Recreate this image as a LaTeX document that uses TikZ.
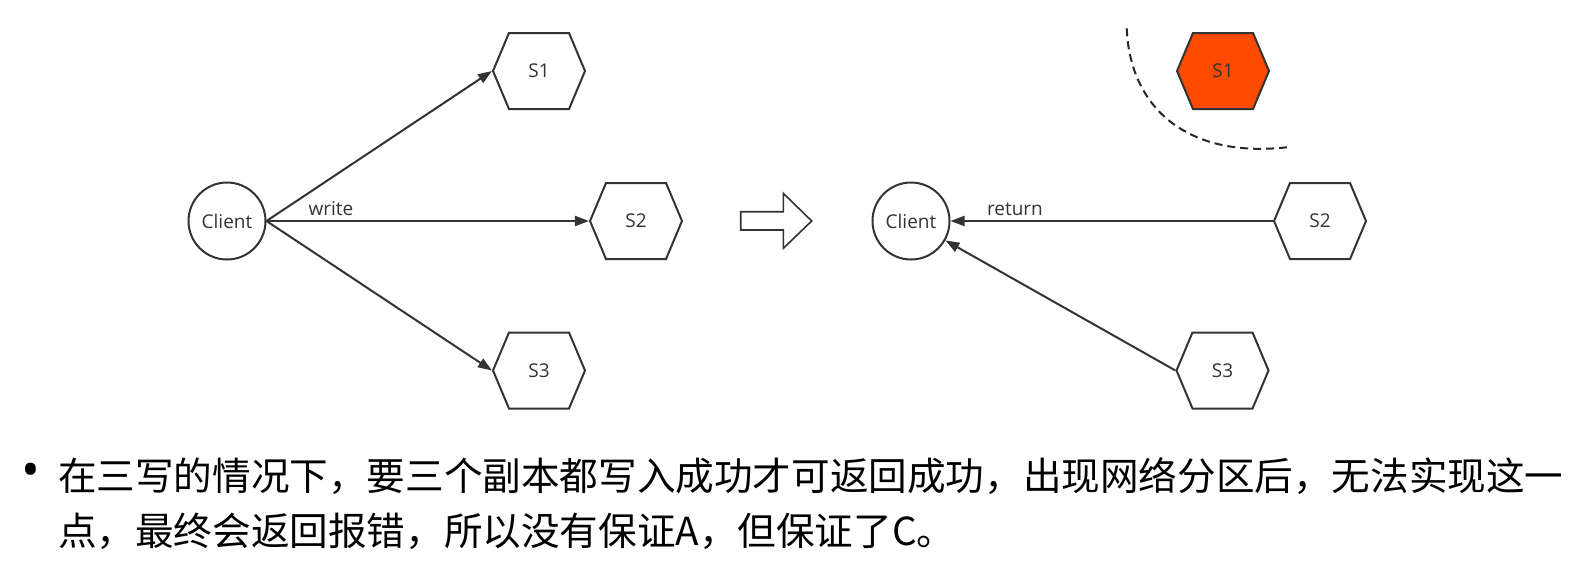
\documentclass[tikz,border=0pt]{standalone}
\usepackage{fontspec}
\usepackage{tikz}
\usetikzlibrary{arrows.meta,shapes.symbols}
\newfontfamily\lblfont{Open Sans}
\newfontfamily\cjkfont{Noto Sans CJK SC}
\definecolor{edgegray}{HTML}{333333}
\definecolor{txtgray}{HTML}{333333}
\definecolor{hexred}{HTML}{FF4B00}

\begin{document}
\begin{tikzpicture}[x=0.5pt,y=-0.5pt,
  lbl/.style={font=\lblfont\fontsize{9.5pt}{11pt}\selectfont,text=txtgray},
  cli/.style={lbl,circle,draw=edgegray,line width=1pt,minimum size=38.5pt,inner sep=0pt},
  srv/.style={lbl,signal,signal to=west and east,signal pointer angle=134.4,draw=edgegray,line width=1pt,minimum width=46pt,minimum height=38pt,inner sep=0pt},
  link/.style={draw=edgegray,line width=1pt,-{Triangle[length=7pt,width=5pt]}},
  para/.style={font=\cjkfont\fontsize{19.3pt}{28pt}\selectfont,inner sep=0pt,anchor=west}]
\useasboundingbox (0,0) rectangle (1588,580);
\node[cli] (cl) at (227,221) {Client};
\foreach \n/\x/\y in {1/539/71,2/636/221,3/539/370.5}
  \node[srv] (s\n) at (\x,\y) {S\n};
\draw[link] (cl.east) -- (s1.west);
\draw[link] (cl.east) -- node[lbl,pos=0.2,above,inner sep=2pt] (wr) {write} (s2.west);
\draw[link] (cl.east) -- (s3.west);
\draw[line width=0.8pt,edgegray] (740.7,211.7) -- (783.3,211.7) -- (783.3,193.3)
   -- (811.7,221) -- (783.3,248.3) -- (783.3,230) -- (740.7,230) -- cycle;
\node[cli] (cr) at (911,221) {Client};
\node[srv,fill=hexred] (t1) at (1223,71) {S1};
\foreach \n/\x/\y in {2/1320/221,3/1222.5/370.5}
  \node[srv] (t\n) at (\x,\y) {S\n};
\draw[link] (t2.west) -- node[lbl,pos=0.8,above,inner sep=2pt] (rt) {return} (cr);
\draw[link] (t3.west) -- (cr);
\draw[line width=1pt,black!85,dash pattern=on 4pt off 2.5pt] (1126.7,28.3)
   .. controls (1130,110) and (1190,160) .. (1291.7,146.7);
\node[inner sep=0pt,font=\lblfont\fontsize{25pt}{28pt}\selectfont] (dot) at (31,475) {•};
\node[para,text=black] (ln1) at (57.7,476) {在三写的情况下，要三个副本都写入成功才可返回成功，出现网络分区后，无法实现这一};
\node[para,text=black] (ln2) at (57.7,531) {点，最终会返回报错，所以没有保证A，但保证了C。};
\end{tikzpicture}
\end{document}
